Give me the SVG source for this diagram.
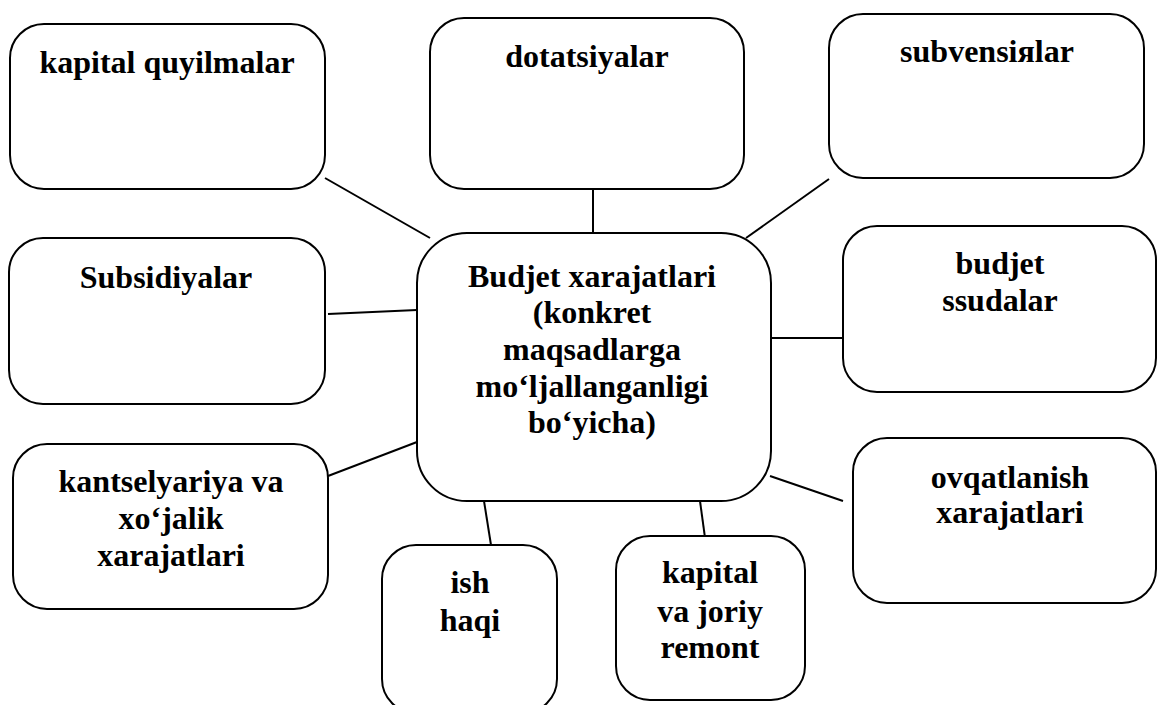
<svg xmlns="http://www.w3.org/2000/svg" width="1158" height="705" viewBox="0 0 1158 705">
<style>
.box{fill:#fff;stroke:#000;stroke-width:2}
.t{font-family:"Liberation Serif","Times New Roman",serif;font-weight:bold;font-size:32px;text-anchor:middle;fill:#000}
.c line{stroke:#000;stroke-width:2}
</style>
<rect width="1158" height="705" fill="#fff"/>
<g id="connectors" class="c">
<line x1="325" y1="178" x2="430" y2="238"/>
<line x1="593" y1="189" x2="593" y2="239"/>
<line x1="829" y1="179" x2="746" y2="238"/>
<line x1="328" y1="314" x2="417" y2="310"/>
<line x1="771" y1="338" x2="854" y2="338"/>
<line x1="328" y1="476" x2="417" y2="442"/>
<line x1="484" y1="501" x2="491" y2="545"/>
<line x1="700" y1="501" x2="706" y2="545"/>
<line x1="770" y1="476" x2="843" y2="501"/>
</g>
<g id="n-kapital-quyilmalar">
<rect class="box" x="10" y="24" width="315" height="165" rx="34"/>
<text class="t" x="167" y="73">kapital quyilmalar</text>
</g>
<g id="n-dotatsiyalar">
<rect class="box" x="430" y="18" width="314" height="171" rx="34"/>
<text class="t" x="587" y="67">dotatsiyalar</text>
</g>
<g id="n-subvensiyalar">
<rect class="box" x="829" y="14" width="315" height="164" rx="34"/>
<text class="t" x="987" y="62">subvensiяlar</text>
</g>
<g id="n-subsidiyalar">
<rect class="box" x="9" y="238" width="316" height="166" rx="34"/>
<text class="t" x="166" y="288">Subsidiyalar</text>
</g>
<g id="n-main">
<rect class="box" x="417" y="233" width="354" height="268" rx="50"/>
<text class="t" x="592" y="287">Budjet xarajatlari</text>
<text class="t" x="592" y="323">(konkret</text>
<text class="t" x="592" y="360">maqsadlarga</text>
<text class="t" x="592" y="397">mo‘ljallanganligi</text>
<text class="t" x="592" y="433">bo‘yicha)</text>
</g>
<g id="n-budjet-ssudalar">
<rect class="box" x="843" y="226" width="313" height="166" rx="34"/>
<text class="t" x="1000" y="274">budjet</text>
<text class="t" x="1000" y="311">ssudalar</text>
</g>
<g id="n-kantselyariya">
<rect class="box" x="13" y="444" width="315" height="165" rx="34"/>
<text class="t" x="171" y="492">kantselyariya va</text>
<text class="t" x="171" y="529">xo‘jalik</text>
<text class="t" x="171" y="566">xarajatlari</text>
</g>
<g id="n-ish-haqi">
<rect class="box" x="382" y="545" width="175" height="168" rx="34"/>
<text class="t" x="470" y="593">ish</text>
<text class="t" x="470" y="631">haqi</text>
</g>
<g id="n-remont">
<rect class="box" x="616" y="536" width="189" height="164" rx="34"/>
<text class="t" x="710" y="583">kapital</text>
<text class="t" x="710" y="622">va joriy</text>
<text class="t" x="710" y="658">remont</text>
</g>
<g id="n-ovqatlanish">
<rect class="box" x="853" y="438" width="303" height="165" rx="34"/>
<text class="t" x="1010" y="488">ovqatlanish</text>
<text class="t" x="1010" y="523">xarajatlari</text>
</g>
</svg>
